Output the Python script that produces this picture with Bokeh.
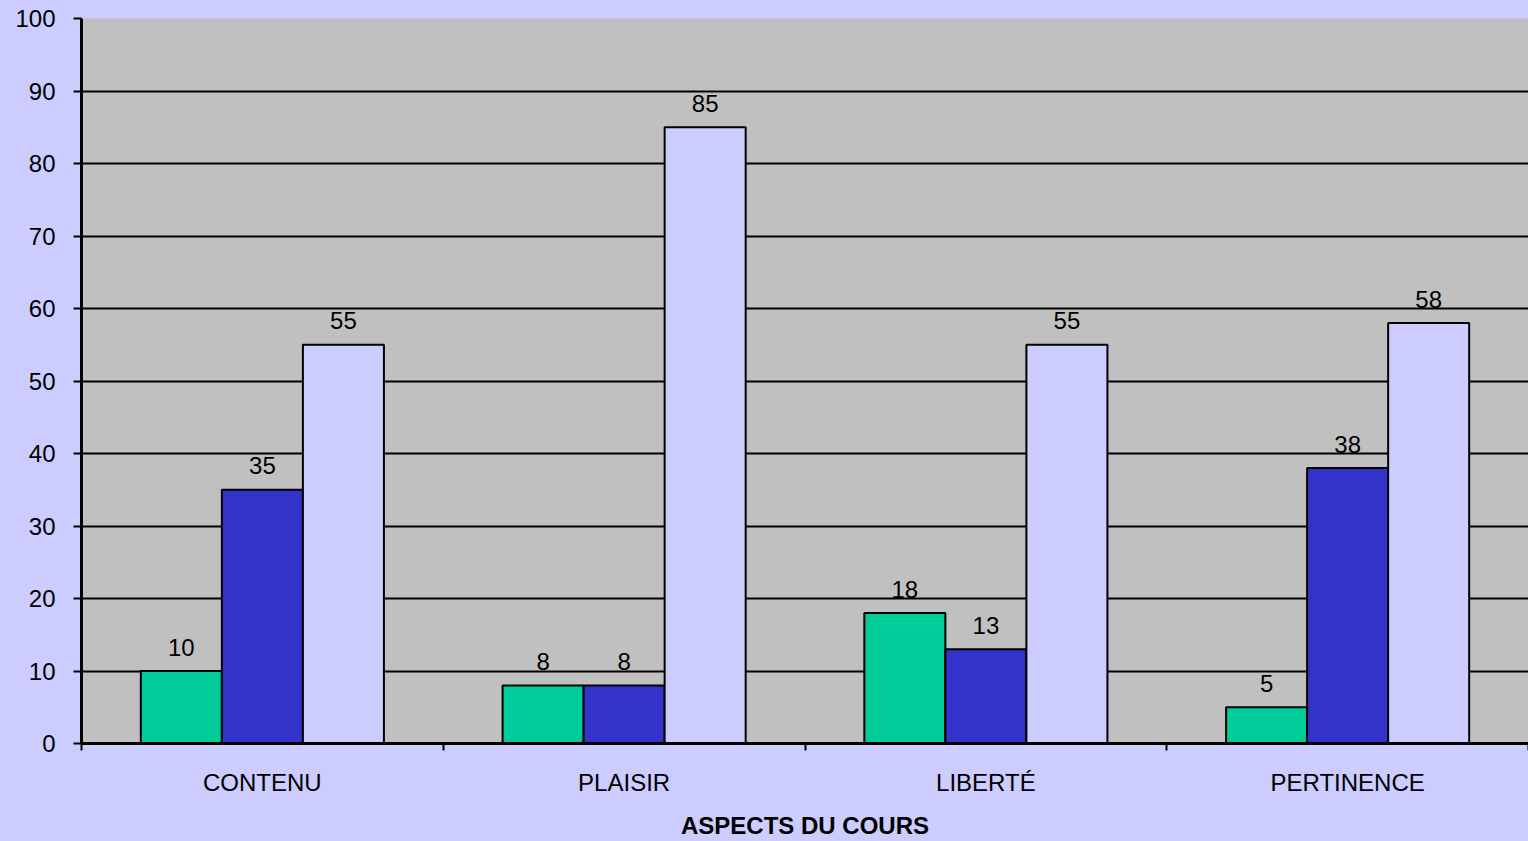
from bokeh.plotting import figure
from bokeh.models import ColumnDataSource, FixedTicker, Range1d
from bokeh.core.properties import value
from bokeh.embed import file_html
from bokeh.resources import INLINE

categories = ["CONTENU", "PLAISIR", "LIBERTÉ", "PERTINENCE"]
series_a = [10, 8, 18, 5]
series_b = [35, 8, 13, 38]
series_c = [55, 85, 55, 58]
y_ticks = [0, 10, 20, 30, 40, 50, 60, 70, 80, 90, 100]
x_title = "ASPECTS DU COURS"

colors = ["#00CC99", "#3333CC", "#CCCCFF"]
BG = "#CCCCFF"
FONT = "Liberation Sans"
FS = "24px"

p = figure(width=1528, height=841, output_backend="svg", toolbar_location=None,
           x_range=Range1d(0, len(categories)), y_range=Range1d(0, 100),
           min_border_left=81, min_border_right=0, min_border_top=18, min_border_bottom=98)
p.background_fill_color = "#C0C0C0"
p.border_fill_color = BG
p.outline_line_color = None

bw = 0.224
offsets = [-bw, 0.0, bw]
for vals, off, col in zip([series_a, series_b, series_c], offsets, colors):
    src = ColumnDataSource(dict(
        x=[i + 0.5 + off for i in range(len(categories))],
        top=vals,
        label=[str(v) for v in vals],
    ))
    p.vbar(x="x", top="top", bottom=0, width=bw, source=src, fill_color=col,
           line_color="black", line_width=2)
    p.text(x="x", y="top", text="label", source=src, text_align="center",
           text_baseline="middle", y_offset=-24, text_font=value(FONT),
           text_font_size=FS, text_color="black")

# grid
p.xgrid.visible = False
p.ygrid.ticker = FixedTicker(ticks=y_ticks)
p.ygrid.grid_line_color = "black"
p.ygrid.grid_line_width = 2

# y axis
p.yaxis.ticker = FixedTicker(ticks=y_ticks)
p.yaxis.axis_line_color = "black"
p.yaxis.axis_line_width = 3
p.yaxis.major_tick_line_width = 2
p.yaxis.major_tick_out = 8
p.yaxis.major_tick_in = 0
p.yaxis.minor_tick_line_color = None
p.yaxis.major_label_text_font = FONT
p.yaxis.major_label_text_font_size = FS
p.yaxis.major_label_text_color = "black"
p.yaxis.major_label_standoff = 18

# x axis
p.xaxis.ticker = FixedTicker(ticks=[i + 0.5 for i in range(len(categories))],
                             minor_ticks=list(range(len(categories) + 1)))
p.xaxis.major_label_overrides = {i + 0.5: c for i, c in enumerate(categories)}
p.xaxis.major_tick_line_color = None
p.xaxis.major_tick_out = 0
p.xaxis.major_tick_in = 0
p.xaxis.minor_tick_line_color = "black"
p.xaxis.minor_tick_line_width = 2
p.xaxis.minor_tick_out = 7
p.xaxis.minor_tick_in = 0
p.xaxis.axis_line_color = "black"
p.xaxis.axis_line_width = 3
p.xaxis.major_label_text_font = FONT
p.xaxis.major_label_text_font_size = FS
p.xaxis.major_label_text_color = "black"
p.xaxis.major_label_standoff = 18
p.xaxis.axis_label = x_title
p.xaxis.axis_label_text_font = FONT
p.xaxis.axis_label_text_font_size = FS
p.xaxis.axis_label_text_font_style = "bold"
p.xaxis.axis_label_text_color = "black"
p.xaxis.axis_label_standoff = 13

html = file_html(p, INLINE)
html = html.replace("<head>", "<head><style>body{background:#CCCCFF;}</style>", 1)
open("out.html", "w").write(html)
